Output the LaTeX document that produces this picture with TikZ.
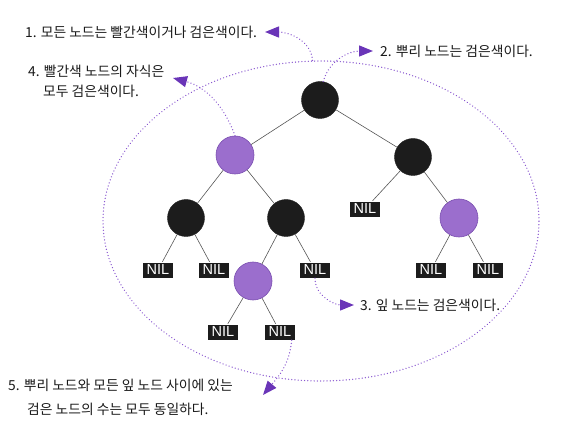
\documentclass[tikz,border=0pt]{standalone}
\usepackage{fontspec}
\newfontfamily\kr{Noto Sans CJK KR}
\newfontfamily\nilfont{Liberation Sans}
\usetikzlibrary{arrows.meta,shapes.geometric}
\definecolor{blk}{HTML}{1C1C1C}
\definecolor{pfill}{HTML}{9B6ECD}
\definecolor{pdraw}{HTML}{7A4FB0}
\definecolor{dotc}{HTML}{8A58D0}
\definecolor{tipc}{HTML}{6A35B8}
\definecolor{edgec}{HTML}{555555}
\tikzset{
  bnode/.style={circle,fill=blk,draw=blk,minimum size=37pt,inner sep=0pt},
  pnode/.style={circle,fill=pfill,draw=pdraw,line width=0.6pt,minimum size=38pt,inner sep=0pt},
  nil/.style={rectangle,fill=blk,draw=white,line width=0.4pt,minimum width=31pt,minimum height=16pt,inner sep=0pt,text=white,font=\nilfont\fontsize{14.5}{14.5}\selectfont},
  lbl/.style={anchor=west,inner sep=0pt,font=\kr\fontsize{13.8}{15}\selectfont,text=black!90},
  tedge/.style={draw=edgec,line width=0.6pt},
  dots/.style={draw=dotc,line width=1.4pt,line cap=round,dash pattern=on 0.01pt off 3.2pt},
  darrow/.style={dots,-{Triangle[length=14pt,width=11pt,color=tipc]}},
}
\begin{document}
\begin{tikzpicture}[x=1pt,y=-1pt]
\useasboundingbox (0,0) rectangle (571,425);
\node[ellipse,dots,minimum width=436pt,minimum height=320pt,inner sep=0pt] (ell) at (321,221) {};
% tree nodes
\node[bnode] (root) at (320,100) {};
\node[pnode] (L) at (235,155) {};
\node[bnode] (R) at (413,157) {};
\node[bnode] (LL) at (186,218) {};
\node[bnode] (LR) at (286,218) {};
\node[nil] (RL) at (365,209) {NIL};
\node[pnode] (RR) at (459,218) {};
\node[nil] (LLL) at (158,270) {NIL};
\node[nil] (LLR) at (214,270) {NIL};
\node[pnode] (LRL) at (253,281) {};
\node[nil] (LRR) at (315,270) {NIL};
\node[nil] (RRL) at (431,270) {NIL};
\node[nil] (RRR) at (488,270) {NIL};
\node[nil] (LRLL) at (223,332) {NIL};
\node[nil] (LRLR) at (280,332) {NIL};
% edges
\foreach \a/\b in {root/L,root/R,L/LL,L/LR,R/RL,R/RR,LL/LLL,LL/LLR,LR/LRL,LR/LRR,RR/RRL,RR/RRR,LRL/LRLL,LRL/LRLR}
  \draw[tedge] (\a) -- (\b);
% labels
\node[lbl] (t1) at (25,32) {1. 모든 노드는 빨간색이거나 검은색이다.};
\node[lbl] (t2) at (380,51) {2. 뿌리 노드는 검은색이다.};
\node[lbl] (t3) at (360,305) {3. 잎 노드는 검은색이다.};
\node[lbl] (t4a) at (28,71) {4. 빨간색 노드의 자식은};
\node[lbl] (t4b) at (43,91) {모두 검은색이다.};
\node[lbl] (t5a) at (8,385) {5. 뿌리 노드와 모든 잎 노드 사이에 있는};
\node[lbl] (t5b) at (27,409) {검은 노드의 수는 모두 동일하다.};
\coordinate (a5) at (263,395);
% dotted arrows
\draw[darrow] (ell.93) to[out=95,in=0] (265,32);
\draw[darrow] (root.80) to[out=75,in=180] (373,51);
\draw[darrow] (LRR.south) to[out=-90,in=180] (354,305);
\draw[darrow] (L.north) to[out=110,in=-15] (173,78);
\draw[darrow] ([xshift=-4pt]LRLR.south east) to[out=-95,in=50] (a5);
\end{tikzpicture}
\end{document}
